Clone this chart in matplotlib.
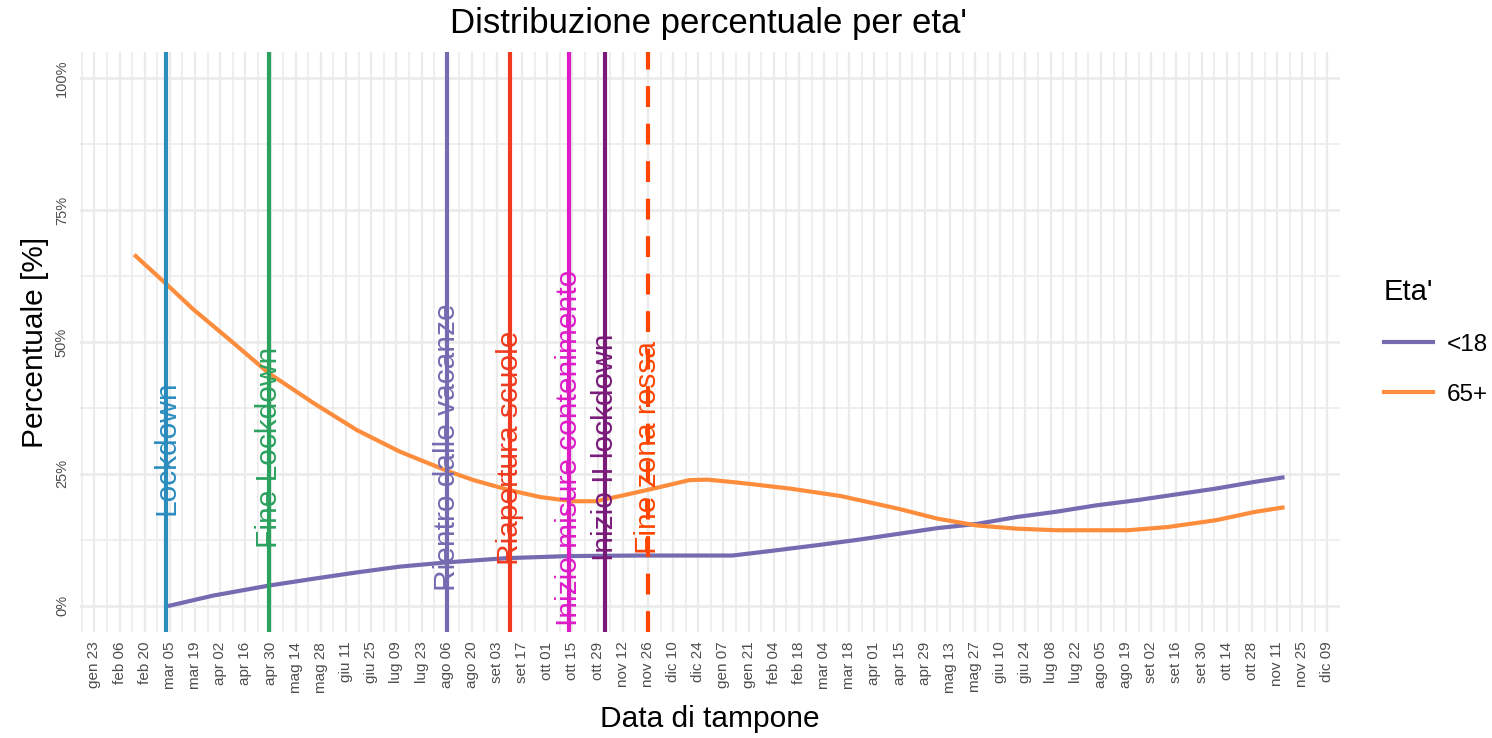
import matplotlib
matplotlib.use("Agg")
import matplotlib.pyplot as plt
from matplotlib.lines import Line2D
import datetime as dt

plt.rcParams['font.family'] = ['Liberation Sans', 'DejaVu Sans']

# ---------------- data ----------------
dates_65 = ["2020-02-15", "2020-03-03", "2020-03-18", "2020-04-07", "2020-04-29",
            "2020-05-24", "2020-06-17", "2020-07-11", "2020-08-06", "2020-08-21",
            "2020-09-10", "2020-09-27", "2020-10-15", "2020-10-28", "2020-11-12",
            "2020-11-29", "2020-12-19", "2020-12-29", "2021-01-16", "2021-02-13",
            "2021-03-13", "2021-04-14", "2021-05-06", "2021-05-28", "2021-06-19",
            "2021-07-11", "2021-08-20", "2021-09-11", "2021-10-08", "2021-10-30",
            "2021-11-14"]
vals_65 = [66.3, 61.0, 56.2, 50.5, 44.1,
           38.4, 33.3, 29.2, 25.6, 23.8,
           21.9, 20.6, 19.8, 19.8, 20.9,
           22.2, 23.8, 23.9, 23.3, 22.2,
           20.8, 18.4, 16.5, 15.2, 14.6,
           14.3, 14.3, 14.9, 16.2, 17.8,
           18.6]

dates_u18 = ["2020-03-05", "2020-03-29", "2020-04-29", "2020-05-24", "2020-06-17",
             "2020-07-11", "2020-08-06", "2020-09-08", "2020-10-13", "2020-11-21",
             "2021-01-12", "2021-02-03", "2021-03-01", "2021-03-23", "2021-04-14",
             "2021-05-06", "2021-05-28", "2021-06-19", "2021-07-11", "2021-08-02",
             "2021-08-25", "2021-09-16", "2021-10-08", "2021-10-30", "2021-11-14"]
vals_u18 = [0.0, 1.9, 3.8, 5.1, 6.3,
            7.4, 8.2, 9.0, 9.4, 9.5,
            9.5, 10.4, 11.5, 12.5, 13.6,
            14.7, 15.5, 16.8, 17.8, 19.0,
            20.0, 21.1, 22.2, 23.5, 24.3]

event_labels = ["Lockdown", "Fine Lockdown", "Rientro dalle vacanze", "Riapertura scuole",
                "Inizio misure contenimento", "Inizio II lockdown", "Fine zona rossa"]
event_dates = ["2020-03-03", "2020-04-29", "2020-08-06", "2020-09-10",
               "2020-10-13", "2020-11-02", "2020-11-26"]
event_colors = ["#2B8CBE", "#2CA25F", "#756BB1", "#F03B20", "#DD1CC8", "#7A1B7A", "#FF4500"]
event_styles = ["-", "-", "-", "-", "-", "-", "--"]

series_names = ["<18", "65+"]
series_colors = ["#756BB1", "#FD8D3C"]

month_it = ["gen", "feb", "mar", "apr", "mag", "giu", "lug", "ago", "set", "ott", "nov", "dic"]

# ---------------- figure ----------------
def d(s):
    return dt.datetime.strptime(s, "%Y-%m-%d")

fig = plt.figure(figsize=(14.92, 7.38), dpi=100)
ax = fig.add_axes([80/1492, (738-632)/738, 1260/1492, 580/738])

for s in ax.spines.values():
    s.set_visible(False)

# grid
start = d("2020-01-23")
end = d("2021-12-09")
major = []
cur = start
while cur <= end:
    major.append(cur)
    cur += dt.timedelta(days=14)
minor = [start - dt.timedelta(days=7)] + [m + dt.timedelta(days=7) for m in major[:-1]]
grid_c = "#EBEBEB"
for m in major:
    ax.axvline(m, color=grid_c, lw=1.6, zorder=0)
for m in minor:
    ax.axvline(m, color=grid_c, lw=1.1, zorder=0)
for y in [0, 25, 50, 75, 100]:
    ax.axhline(y, color=grid_c, lw=1.8, zorder=0)
for y in [12.5, 37.5, 62.5, 87.5]:
    ax.axhline(y, color=grid_c, lw=1.1, zorder=0)

# series
ax.plot([d(x) for x in dates_u18], vals_u18, color=series_colors[0], lw=3.0,
        zorder=3, solid_joinstyle='round')
ax.plot([d(x) for x in dates_65], vals_65, color=series_colors[1], lw=3.0,
        zorder=3, solid_joinstyle='round')

# events
for lab, ds, c, ls in zip(event_labels, event_dates, event_colors, event_styles):
    if ls == "--":
        ax.axvline(d(ds), color=c, lw=3.0, ls=(0, (5, 4)), zorder=4)
    else:
        ax.axvline(d(ds), color=c, lw=3.0, zorder=4)
    ax.text(d(ds), 30, lab, rotation=90, color=c, fontsize=21.5,
            ha='center', va='center', zorder=5)

ax.set_xlim(d("2020-01-15"), d("2021-12-16"))
ax.set_ylim(-5, 105)

ax.set_xticks(major)
ax.set_xticklabels([f"{month_it[m.month-1]} {m.day:02d}" for m in major],
                   rotation=90, fontsize=11, color="#4D4D4D")
ax.set_yticks([0, 25, 50, 75, 100])
ax.set_yticklabels(["0%", "25%", "50%", "75%", "100%"], rotation=90,
                   fontsize=10.5, color="#4D4D4D", va='center')
ax.tick_params(axis='x', length=0, pad=7)
ax.tick_params(axis='y', length=0, pad=8)

ax.set_xlabel("Data di tampone", fontsize=21.5, labelpad=9)
ax.set_ylabel("Percentuale [%]", fontsize=21.5, labelpad=4)
fig.text(0.475, 0.968, "Distribuzione percentuale per eta'", fontsize=25,
         ha='center', va='center')

handles = [Line2D([0], [0], color=c, lw=3.0) for c in series_colors]
leg = fig.legend(handles, series_names, title="Eta'", loc='upper left',
                 bbox_to_anchor=(1384/1492, 1 - 278/738), frameon=False,
                 fontsize=17.5, title_fontsize=21, handlelength=2.0,
                 labelspacing=1.15, handletextpad=0.6, borderaxespad=0,
                 borderpad=0)
leg._legend_box.align = "left"

fig.savefig("out.png", dpi=100, facecolor='white')
